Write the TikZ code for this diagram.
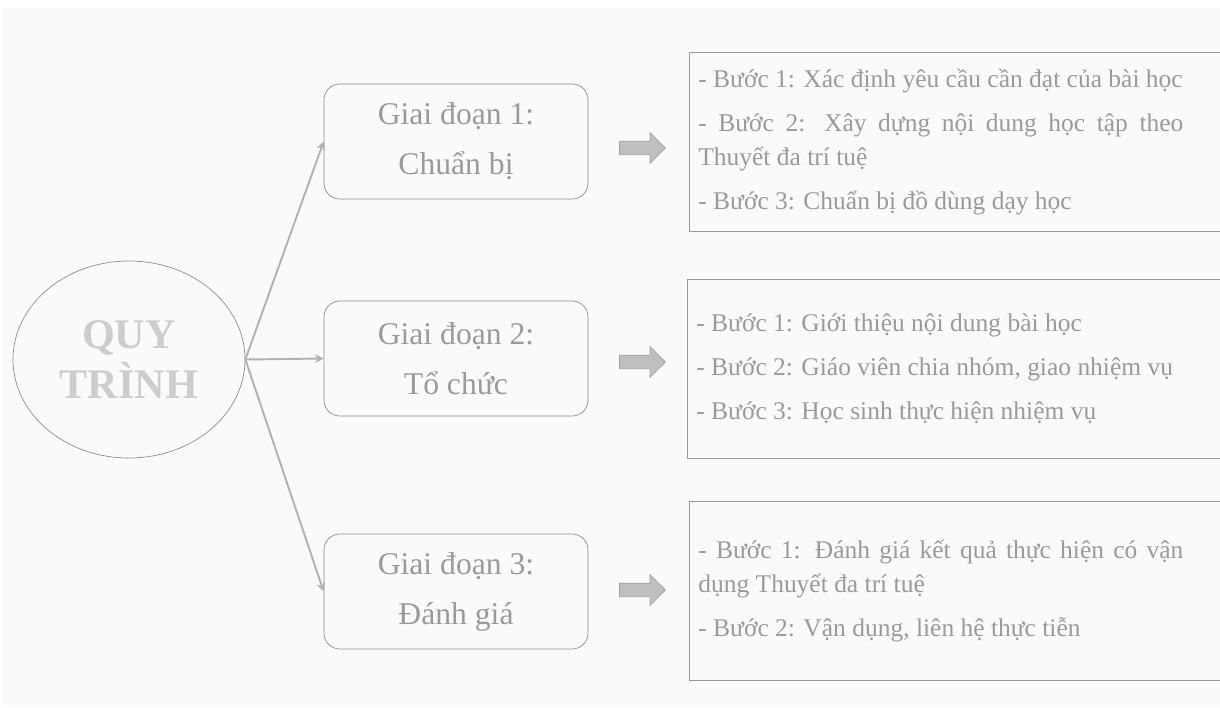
\documentclass[tikz,border=0pt]{standalone}
\usepackage{fontspec}
\setmainfont{Liberation Serif}
\usepackage{xcolor}
\usepackage{tikz}
\usetikzlibrary{arrows.meta,positioning,shapes.geometric,shapes.arrows}
\definecolor{bgpaper}{HTML}{FAFAFA}
\definecolor{edgegray}{HTML}{8E8E8E}
\definecolor{txtgray}{HTML}{9A9A9C}
\definecolor{linkgray}{HTML}{B2B2B4}
\definecolor{titlegray}{HTML}{CDCDCF}
\definecolor{blkfill}{HTML}{BFBFC1}

\begin{document}
\begin{tikzpicture}[
  stage/.style={rectangle, draw=edgegray, rounded corners=9pt, minimum width=5.28cm, minimum height=2.3cm, align=center, text=txtgray, font=\fontsize{18pt}{28.5pt}\selectfont},
  steps/.style={rectangle, anchor=west, text width=9.7cm, inner xsep=0.18cm, minimum height=3.56cm, align=justify, text=txtgray, font=\fontsize{14.5pt}{19.3pt}\selectfont, execute at begin node={\setlength{\parindent}{0pt}\setlength{\parskip}{5.7pt}}},
  frame/.style={draw=edgegray!90},
  blk/.style={single arrow, draw=blkfill!85!black, fill=blkfill, inner sep=0pt, text height=0.26cm, text depth=0pt, single arrow head extend=0.17cm, minimum height=0.92cm},
  link/.style={-{Stealth[length=5pt,width=5pt]}, draw=linkgray, line width=1.1pt}
]
\useasboundingbox (0,0) rectangle (24.4,-14.14);
\fill[bgpaper] (0.06,-0.16) rectangle (24.4,-14.14);

% Centre
\node[ellipse, draw=edgegray, minimum width=4.64cm, minimum height=3.94cm, inner sep=0pt, align=center, text=titlegray, font=\bfseries\fontsize{24pt}{28.5pt}\selectfont] (proc) at (2.58,-7.19) {QUY\\TRÌNH};

% Stages
\node[stage] (st1) at (9.12,-2.83) {Giai đoạn 1:\\Chuẩn bị};
\node[stage] (st2) at (9.12,-7.17) {Giai đoạn 2:\\Tổ chức};
\node[stage] (st3) at (9.12,-11.83) {Giai đoạn 3:\\Đánh giá};

\draw[link] (proc.east) -- (st1.west);
\draw[link] (proc.east) -- (st2.west);
\draw[link] (proc.east) -- (st3.west);

% Block arrows
\node[blk] (go1) at (12.78,-2.96) {};
\node[blk] (go2) at (12.78,-7.24) {};
\node[blk] (go3) at (12.78,-11.80) {};

% Steps
\node[steps] (sp1) at (13.78,-2.84) {- Bước 1: Xác định yêu cầu cần đạt của bài học\par
- Bước 2: Xây dựng nội dung học tập theo Thuyết đa trí tuệ\par
- Bước 3: Chuẩn bị đồ dùng dạy học};
\node[steps] (sp2) at (13.74,-7.37) {- Bước 1: Giới thiệu nội dung bài học\par
- Bước 2: Giáo viên chia nhóm, giao nhiệm vụ\par
- Bước 3: Học sinh thực hiện nhiệm vụ};
\node[steps] (sp3) at (13.78,-11.82) {- Bước 1: Đánh giá kết quả thực hiện có vận dụng Thuyết đa trí tuệ\par
- Bước 2: Vận dụng, liên hệ thực tiễn};

% frames run off the right edge
\draw[frame] (sp1.north west) rectangle ([xshift=1cm]sp1.south east);
\draw[frame] (sp2.north west) rectangle ([xshift=1cm]sp2.south east);
\draw[frame] (sp3.north west) rectangle ([xshift=1cm]sp3.south east);

\end{tikzpicture}
\end{document}
